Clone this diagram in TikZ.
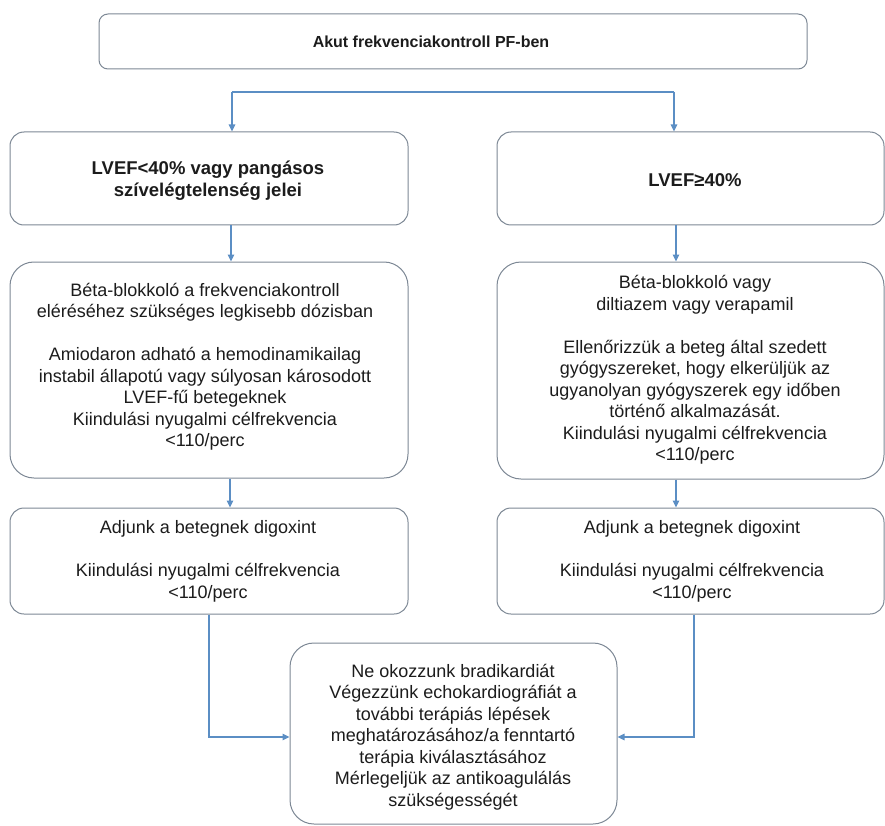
\documentclass[tikz,border=0pt]{standalone}
\usepackage{fontspec}
\setmainfont{Liberation Sans}
\usetikzlibrary{arrows.meta}
\definecolor{boxline}{HTML}{7D8895}
\definecolor{flow}{HTML}{5B8EC4}
\definecolor{ink}{HTML}{1C1C1C}
\begin{document}
\begin{tikzpicture}[x=1pt,y=-1pt,
  box/.style={draw=boxline, line width=1pt, fill=white, inner sep=0pt},
  body/.style={text=ink, align=center, inner sep=0pt, font=\fontsize{18}{21.5}\selectfont},
  head/.style={text=ink, align=center, inner sep=0pt, font=\fontsize{18.5}{22}\selectfont\bfseries},
  wire/.style={draw=flow, line width=1.1pt},
  link/.style={wire, -{Triangle[length=7pt,width=6.5pt]}}]
\useasboundingbox (0,0) rectangle (885,826);

% boxes
\node[box, rounded corners=9pt, minimum width=708pt, minimum height=55pt] (top) at (453,41.5) {};
\node[box, rounded corners=14pt, minimum width=398pt, minimum height=93pt] (lhead) at (209,178.5) {};
\node[box, rounded corners=14pt, minimum width=387pt, minimum height=93pt] (rhead) at (690.5,178.5) {};
\node[box, rounded corners=24pt, minimum width=398pt, minimum height=216pt] (lmain) at (209,370) {};
\node[box, rounded corners=24pt, minimum width=387pt, minimum height=217pt] (rmain) at (690.5,370.5) {};
\node[box, rounded corners=14pt, minimum width=398pt, minimum height=106pt] (ldig) at (209,561) {};
\node[box, rounded corners=14pt, minimum width=387pt, minimum height=106pt] (rdig) at (690.5,561) {};
\node[box, rounded corners=24pt, minimum width=327pt, minimum height=181pt] (final) at (453.5,733.5) {};

% texts
\node[text=ink, inner sep=0pt, font=\fontsize{16}{19}\selectfont\bfseries] (ttitle) at (431,42) {Akut frekvenciakontroll PF-ben};
\node[head] (tlhead) at (208,181) {LVEF<40\% vagy pangásos\\szívelégtelenség jelei};
\node[head] (trhead) at (695,180) {LVEF≥40\%};
\node[body] (tlmain) at (205,366.5) {Béta-blokkoló a frekvenciakontroll\\eléréséhez szükséges legkisebb dózisban\\[21.5pt]Amiodaron adható a hemodinamikailag\\instabil állapotú vagy súlyosan károsodott\\LVEF-fű betegeknek\\Kiindulási nyugalmi célfrekvencia\\<110/perc};
\node[body] (trmain) at (695,370) {Béta-blokkoló vagy\\diltiazem vagy verapamil\\[21.5pt]Ellenőrizzük a beteg által szedett\\gyógyszereket, hogy elkerüljük az\\ugyanolyan gyógyszerek egy időben\\történő alkalmazását.\\Kiindulási nyugalmi célfrekvencia\\<110/perc};
\node[body] (tldig) at (208,561.5) {Adjunk a betegnek digoxint\\[21.5pt]Kiindulási nyugalmi célfrekvencia\\<110/perc};
\node[body] (trdig) at (692,561.5) {Adjunk a betegnek digoxint\\[21.5pt]Kiindulási nyugalmi célfrekvencia\\<110/perc};
\node[body] (tfinal) at (453,737) {Ne okozzunk bradikardiát\\Végezzünk echokardiográfiát a\\további terápiás lépések\\meghatározásához/a fenntartó\\terápia kiválasztásához\\Mérlegeljük az antikoagulálás\\szükségességét};

% connectors
\coordinate (sl) at (232,92);
\coordinate (sr) at (674,92);
\draw[wire] (sl) -- (sr);
\draw[link] (sl) -- (sl |- lhead.north);
\draw[link] (sr) -- (sr |- rhead.north);
\draw[link] ([xshift=22pt]lhead.south) -- ([xshift=22pt]lmain.north);
\draw[link] ([xshift=-14.5pt]rhead.south) -- ([xshift=-14.5pt]rmain.north);
\draw[link] ([xshift=21pt]lmain.south) -- ([xshift=21pt]ldig.north);
\draw[link] ([xshift=-14.5pt]rmain.south) -- ([xshift=-14.5pt]rdig.north);
\draw[link] (ldig.south) |- ([yshift=-3.5pt]final.west);
\draw[link] ([xshift=3.5pt]rdig.south) |- ([yshift=-3.5pt]final.east);
\end{tikzpicture}
\end{document}
